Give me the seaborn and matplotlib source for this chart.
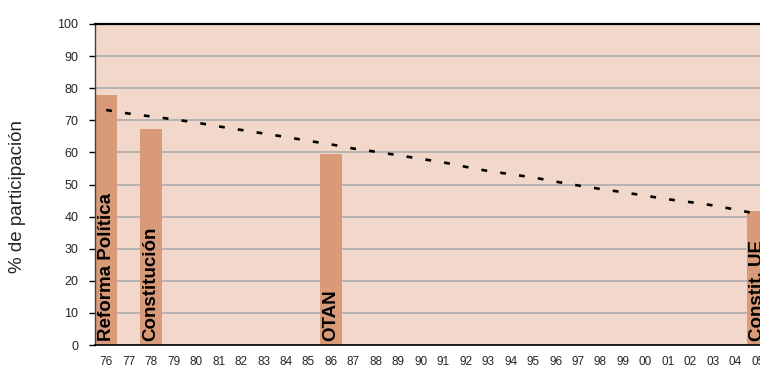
import numpy as np
import pandas as pd
import matplotlib
matplotlib.use('Agg')
import matplotlib.pyplot as plt
import seaborn as sns

# Data
years = ['76', '77', '78', '79', '80', '81', '82', '83', '84', '85', '86', '87', '88', '89', '90',
         '91', '92', '93', '94', '95', '96', '97', '98', '99', '00', '01', '02', '03', '04', '05']
ref_years = ['76', '78', '86', '05']
ref_names = ['Reforma Política', 'Constitución', 'OTAN', 'Constit. UE']
ref_turnout = [77.8, 67.3, 59.6, 41.8]
trend = [73.2, 72.1, 71.2, 70.3, 69.3, 68.1, 67.0, 65.9, 64.8, 63.6, 62.5, 61.2, 60.2, 59.1, 58.0,
         56.9, 55.5, 54.2, 53.2, 52.2, 50.9, 49.7, 48.6, 47.6, 46.5, 45.4, 44.5, 43.5, 42.2, 40.8]

BG = '#F2D8CA'
BAR = '#D99A7A'
GRID = '#B0B0B0'

sns.set_style('white')
plt.rcParams['font.family'] = ['Liberation Sans', 'DejaVu Sans']

fig = plt.figure(figsize=(7.6, 3.69), dpi=100)
# plot area runs past the right edge of the picture, as in the original
ax = fig.add_axes([95 / 760, (369 - 345) / 369, 674 / 760, 321 / 369])
ax.set_facecolor(BG)

df = pd.DataFrame({'year': ref_years, 'turnout': ref_turnout})
sns.barplot(data=df, x='year', y='turnout', order=years, color=BAR, width=1.0,
            saturation=1, edgecolor='none', linewidth=0, ax=ax, zorder=2)

x_pos = np.arange(len(years))
ax.plot(x_pos, trend, color='black', lw=1.9, dashes=(2.2, 5.0), zorder=3,
        dash_capstyle='butt')

# labels inside bars
for name, yr in zip(ref_names, ref_years):
    ax.text(years.index(yr), 1.2, name, rotation=90, ha='center', va='bottom',
            fontsize=13.5, fontweight='bold', color='black', zorder=4)

ax.set_xlim(-0.5, len(years) - 0.5)
ax.set_ylim(0, 100)
ax.set_yticks(range(0, 101, 10))
ax.yaxis.grid(True, color=GRID, lw=1.3, zorder=1)
ax.set_axisbelow(True)

ax.set_xticks(x_pos)
ax.set_xticklabels(years)
ax.set_xticks(np.arange(-0.5, len(years), 1.0), minor=True)
ax.tick_params(axis='x', which='major', length=0, labelsize=8.5, pad=8)
ax.tick_params(axis='x', which='minor', length=4, width=1, color='black')
ax.tick_params(axis='y', length=4, width=1, labelsize=9, color='black', pad=8, left=True)

ax.set_xlabel('')
ax.set_ylabel('% de participación', fontsize=13.5)
ax.yaxis.set_label_coords(-0.103, 0.463)

for side in ['left', 'bottom', 'top']:
    ax.spines[side].set_visible(True)
    ax.spines[side].set_color('black')
ax.spines['left'].set_linewidth(1.0)
ax.spines['left'].set_color('#404040')
ax.spines['bottom'].set_linewidth(1.2)
ax.spines['top'].set_linewidth(1.6)
ax.spines['right'].set_visible(False)

fig.savefig('out.png', dpi=100, facecolor='white')
